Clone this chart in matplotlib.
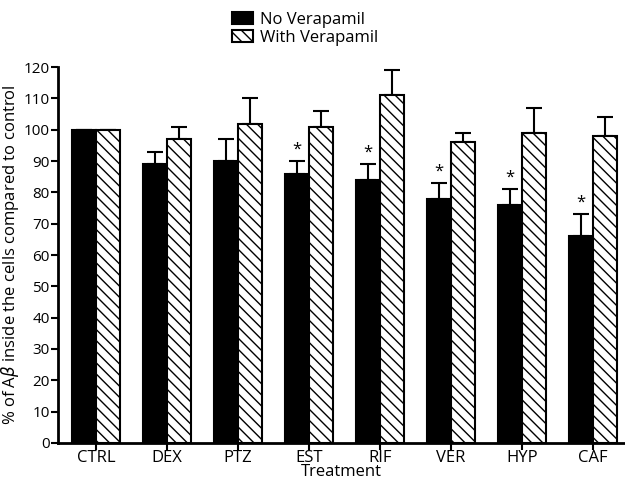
import matplotlib
matplotlib.use("Agg")
import matplotlib.pyplot as plt
import numpy as np

treatments = ["CTRL", "DEX", "PTZ", "EST", "RIF", "VER", "HYP", "CAF"]
no_verapamil = [100, 89, 90, 86, 84, 78, 76, 66]
no_verapamil_err = [0, 4, 7, 4, 5, 5, 5, 7]
with_verapamil = [100, 97, 102, 101, 111, 96, 99, 98]
with_verapamil_err = [0, 4, 8, 5, 8, 3, 8, 6]
significant = [False, False, False, True, True, True, True, True]

plt.rcParams['font.family'] = ['Open Sans', 'DejaVu Sans']
plt.rcParams['hatch.linewidth'] = 1.0

fig = plt.figure(figsize=(6.25, 4.83), dpi=100)
ax = fig.add_axes([0.093, 0.083, 0.907, 0.778])

x = np.arange(len(treatments))
w = 0.34

ax.bar(x - w / 2, no_verapamil, w, color='black', edgecolor='black',
       linewidth=1.5, label='No Verapamil', zorder=2)
ax.bar(x + w / 2, with_verapamil, w, color='white', edgecolor='black',
       hatch='\\\\\\', linewidth=1.5, label='With Verapamil', zorder=2)

# upward-only error bars
ax.errorbar(x - w / 2, no_verapamil, yerr=[np.zeros(len(x)), no_verapamil_err],
            fmt='none', ecolor='black', elinewidth=1.5, capsize=6, capthick=1.5, zorder=1)
ax.errorbar(x + w / 2, with_verapamil, yerr=[np.zeros(len(x)), with_verapamil_err],
            fmt='none', ecolor='black', elinewidth=1.5, capsize=6, capthick=1.5, zorder=1)

for i in range(len(x)):
    if significant[i]:
        ax.text(x[i] - w / 2, no_verapamil[i] + no_verapamil_err[i] + 1.2, '*',
                ha='center', va='bottom', fontsize=12)

ax.set_xlim(-0.535, 7.45)
ax.set_ylim(0, 120)
ax.set_yticks(range(0, 121, 10))
ax.set_xticks(x)
ax.set_xticklabels(treatments, fontsize=12)
ax.tick_params(axis='y', labelsize=11, length=5, width=1.5, pad=1)
ax.tick_params(axis='x', length=5, width=1.5, pad=0)

for s in ['top', 'right']:
    ax.spines[s].set_visible(False)
ax.spines['left'].set_linewidth(2)
ax.spines['bottom'].set_linewidth(2)

ax.set_ylabel(r'% of A$\beta$ inside the cells compared to control', fontsize=12, labelpad=2)
ax.set_xlabel('Treatment', fontsize=12, labelpad=-1)

fig.legend(loc='upper left', bbox_to_anchor=(0.352, 1.0), frameon=False,
           fontsize=12, handlelength=1.3, handleheight=0.8, handletextpad=0.4,
           labelspacing=0.1, borderaxespad=0.3)

fig.savefig('out.png', dpi=100)
